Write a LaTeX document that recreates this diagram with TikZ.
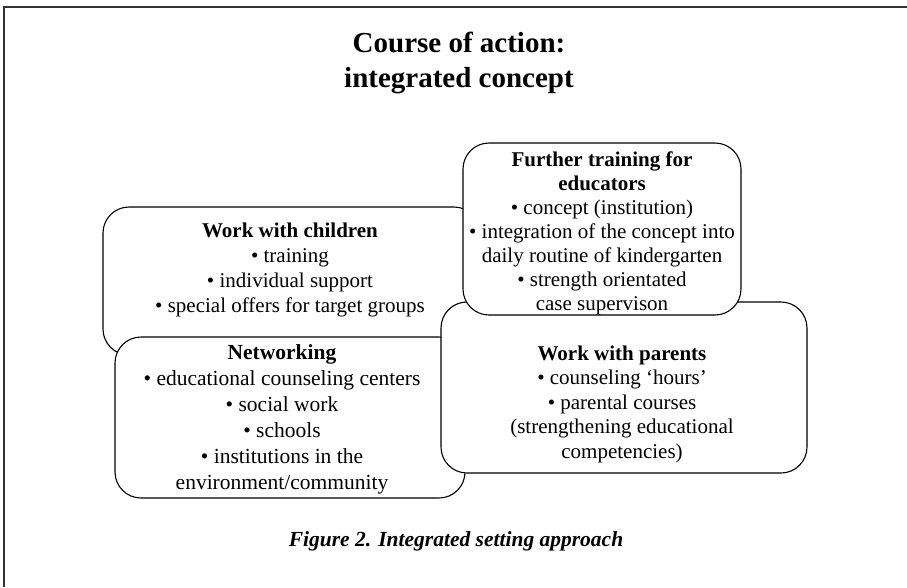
\documentclass[tikz,border=0pt]{standalone}
\usepackage{fontspec}
\setmainfont{Liberation Serif}
\usepackage{tikz}
\usetikzlibrary{positioning}

\tikzset{
    box/.style={draw, fill=white, line width=1.1pt, rounded corners=26pt, inner sep=0pt},
    boxtext/.style={align=center, inner sep=0pt, font=\fontsize{21}{25}\selectfont},
}

\begin{document}
\begin{tikzpicture}[x=1pt, y=-1pt]
    \useasboundingbox (0,0) rectangle (907,587);

    % Frame
    \draw [line width=2.5pt, black!80] (907,7) -- (4,7) -- (4,587);

    % Title
    \node [align=center, font=\fontsize{29}{35}\selectfont\bfseries] (title) at (459, 63)
        {Course of action:\\ integrated concept};

    % Work with children
    \node [box, minimum width=377pt, minimum height=148pt] (children) at (291.5, 281) {};
    \node [boxtext] (childrentext) at (290, 270)
        {\textbf{Work with children}\\ • training\\ • individual support\\ • special offers for target groups};

    % Networking
    \node [box, minimum width=350pt, minimum height=161pt] (network) at (290, 417.5) {};
    \node [boxtext, font=\fontsize{21.5}{26}\selectfont] (networktext) at (282, 419)
        {\textbf{Networking}\\ • educational counseling centers\\ • social work\\ • schools\\
         • institutions in the\\ environment/community};

    % Work with parents
    \node [box, minimum width=366pt, minimum height=171pt] (parents) at (624, 387.5) {};
    \node [boxtext, font=\fontsize{21}{24.5}\selectfont] (parentstext) at (622, 404)
        {\textbf{Work with parents}\\ • counseling `hours'\\ • parental courses\\
         (strengthening educational\\ competencies)};

    % Further training
    \node [box, minimum width=278pt, minimum height=172pt] (training) at (602, 229) {};
    \node [boxtext, font=\fontsize{21}{24}\selectfont] (trainingtext) at (602, 233)
        {\textbf{Further training for}\\ \textbf{educators}\\ • concept (institution)\\
         • integration of the concept into\\ daily routine of kindergarten\\
         • strength orientated\\ case supervison};

    % Caption
    \node [font=\fontsize{21.5}{25}\selectfont\bfseries\itshape] (caption) at (456, 541)
        {Figure 2. Integrated setting approach};
\end{tikzpicture}
\end{document}
